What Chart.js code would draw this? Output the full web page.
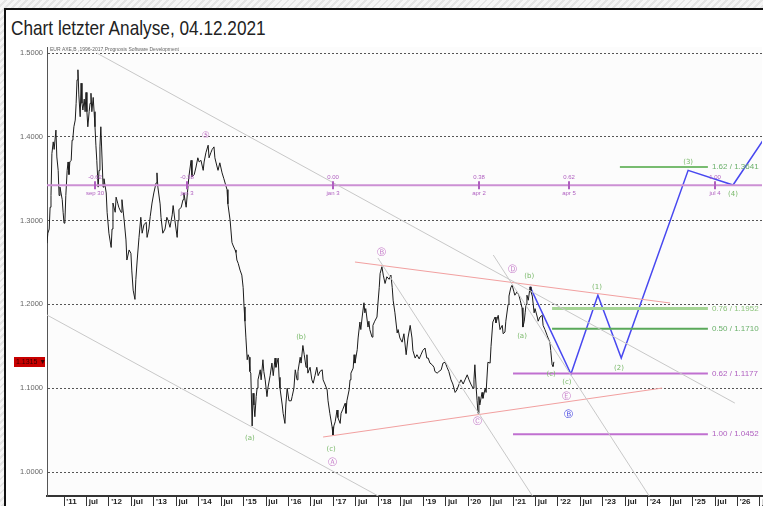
<!DOCTYPE html>
<html>
<head>
<meta charset="utf-8">
<script src="https://cdn.jsdelivr.net/npm/chart.js@4/dist/chart.umd.min.js"></script>
<style>
  html, body { margin: 0; padding: 0; width: 763px; height: 506px; overflow: hidden;
    background: repeating-linear-gradient(135deg, #f5f5f5 0 3px, #e4e4e4 3px 5px); }
  #frame { position: absolute; left: 4px; top: 8px; width: 800px; height: 520px; background: #fff;
    border-left: 2px solid #111; border-top: 2px solid #111; }
  #title { position: absolute; left: 11px; top: 16px; font: 21px "Liberation Sans", Arial, sans-serif;
    color: #222; white-space: nowrap; transform: scaleX(0.82); transform-origin: 0 0; }
  canvas { position: absolute; left: 0; top: 0; }
</style>
</head>
<body>
<div id="frame"></div>
<div id="title">Chart letzter Analyse, 04.12.2021</div>
<canvas id="chart" width="763" height="506"></canvas>
<script>
// ── data (years as decimals, prices in EUR/USD) ──────────────────────────────
const yearLabels = ["'11","'12","'13","'14","'15","'16","'17","'18","'19","'20","'21","'22","'23","'24","'25","'26"];
const priceTicks = [1.0, 1.1, 1.2, 1.3, 1.4, 1.5];

const priceSeries = [
  [2010.62,1.273],[2010.64,1.285],[2010.67,1.290],[2010.69,1.316],[2010.71,1.330],[2010.73,1.380],[2010.76,1.394],
  [2010.78,1.385],[2010.82,1.408],[2010.84,1.376],[2010.87,1.360],[2010.89,1.330],[2010.91,1.340],[2010.96,1.325],
  [2010.98,1.310],[2011.00,1.297],[2011.02,1.300],[2011.04,1.330],[2011.07,1.360],[2011.09,1.370],[2011.11,1.355],
  [2011.13,1.370],[2011.16,1.372],[2011.18,1.396],[2011.20,1.400],[2011.22,1.412],[2011.25,1.420],[2011.27,1.440],
  [2011.29,1.468],[2011.31,1.480],[2011.33,1.450],[2011.36,1.424],[2011.38,1.464],[2011.40,1.440],[2011.42,1.432],
  [2011.45,1.445],[2011.47,1.430],[2011.49,1.453],[2011.51,1.430],[2011.53,1.412],[2011.56,1.430],[2011.58,1.440],
  [2011.60,1.452],[2011.62,1.430],[2011.65,1.447],[2011.67,1.430],[2011.69,1.412],[2011.71,1.390],[2011.73,1.372],
  [2011.76,1.340],[2011.78,1.360],[2011.80,1.388],[2011.82,1.412],[2011.85,1.370],[2011.87,1.340],[2011.89,1.350],
  [2011.94,1.333],[2011.96,1.310],[2012.00,1.285],[2012.05,1.268],[2012.07,1.290],[2012.09,1.321],[2012.14,1.310],
  [2012.16,1.328],[2012.20,1.320],[2012.22,1.316],[2012.27,1.310],[2012.29,1.325],[2012.34,1.300],[2012.38,1.277],
  [2012.40,1.253],[2012.45,1.265],[2012.49,1.261],[2012.51,1.240],[2012.54,1.217],[2012.58,1.206],[2012.60,1.230],
  [2012.63,1.253],[2012.67,1.280],[2012.71,1.304],[2012.74,1.285],[2012.78,1.295],[2012.83,1.298],[2012.85,1.280],
  [2012.89,1.290],[2012.92,1.305],[2012.96,1.321],[2013.00,1.333],[2013.05,1.345],[2013.07,1.357],[2013.09,1.340],
  [2013.14,1.320],[2013.16,1.304],[2013.20,1.285],[2013.25,1.290],[2013.29,1.304],[2013.32,1.300],[2013.36,1.292],
  [2013.41,1.307],[2013.43,1.318],[2013.47,1.300],[2013.52,1.280],[2013.54,1.300],[2013.56,1.313],[2013.61,1.316],
  [2013.65,1.325],[2013.67,1.333],[2013.72,1.316],[2013.76,1.340],[2013.78,1.352],[2013.83,1.372],[2013.85,1.352],
  [2013.90,1.355],[2013.94,1.364],[2013.98,1.375],[2014.01,1.370],[2014.05,1.372],[2014.10,1.360],[2014.12,1.370],
  [2014.16,1.381],[2014.21,1.390],[2014.23,1.375],[2014.27,1.381],[2014.30,1.385],[2014.34,1.388],[2014.36,1.375],
  [2014.41,1.364],[2014.43,1.360],[2014.47,1.369],[2014.52,1.357],[2014.56,1.350],[2014.63,1.337],[2014.65,1.320],
  [2014.70,1.300],[2014.74,1.274],[2014.76,1.271],[2014.81,1.265],[2014.83,1.262],[2014.85,1.253],[2014.88,1.249],
  [2014.92,1.241],[2014.96,1.235],[2014.99,1.220],[2015.01,1.197],[2015.03,1.180],[2015.05,1.161],[2015.08,1.134],
  [2015.10,1.140],[2015.12,1.137],[2015.14,1.120],[2015.16,1.118],[2015.19,1.055],[2015.21,1.094],[2015.23,1.080],
  [2015.25,1.066],[2015.28,1.090],[2015.30,1.100],[2015.32,1.110],[2015.37,1.122],[2015.39,1.110],[2015.43,1.134],
  [2015.45,1.120],[2015.48,1.110],[2015.52,1.090],[2015.54,1.100],[2015.59,1.115],[2015.63,1.130],[2015.66,1.115],
  [2015.70,1.136],[2015.72,1.125],[2015.77,1.136],[2015.79,1.113],[2015.81,1.100],[2015.86,1.080],[2015.88,1.070],
  [2015.92,1.058],[2015.94,1.080],[2015.97,1.100],[2016.01,1.085],[2016.06,1.085],[2016.08,1.090],[2016.12,1.100],
  [2016.15,1.122],[2016.19,1.110],[2016.21,1.120],[2016.26,1.137],[2016.28,1.130],[2016.32,1.151],[2016.35,1.140],
  [2016.39,1.125],[2016.41,1.140],[2016.43,1.118],[2016.48,1.125],[2016.52,1.110],[2016.55,1.106],[2016.59,1.115],
  [2016.63,1.125],[2016.66,1.115],[2016.70,1.120],[2016.75,1.122],[2016.77,1.110],[2016.81,1.105],[2016.86,1.098],
  [2016.88,1.085],[2016.92,1.070],[2016.97,1.054],[2016.99,1.044],[2017.01,1.055],[2017.04,1.060],[2017.08,1.074],
  [2017.10,1.065],[2017.15,1.058],[2017.17,1.070],[2017.21,1.075],[2017.26,1.082],[2017.28,1.070],[2017.30,1.085],
  [2017.35,1.098],[2017.37,1.110],[2017.39,1.118],[2017.44,1.124],[2017.46,1.140],[2017.48,1.130],[2017.53,1.146],
  [2017.55,1.160],[2017.59,1.179],[2017.61,1.170],[2017.64,1.185],[2017.68,1.202],[2017.70,1.190],[2017.72,1.195],
  [2017.77,1.173],[2017.79,1.180],[2017.81,1.170],[2017.86,1.161],[2017.88,1.175],[2017.92,1.180],[2017.97,1.185],
  [2017.99,1.200],[2018.02,1.220],[2018.04,1.237],[2018.08,1.245],[2018.11,1.235],[2018.15,1.225],[2018.19,1.233],
  [2018.24,1.230],[2018.28,1.235],[2018.31,1.220],[2018.33,1.205],[2018.37,1.190],[2018.42,1.166],[2018.44,1.170],
  [2018.48,1.160],[2018.53,1.155],[2018.57,1.165],[2018.62,1.140],[2018.66,1.160],[2018.71,1.175],[2018.75,1.160],
  [2018.77,1.145],[2018.82,1.136],[2018.86,1.140],[2018.91,1.135],[2018.95,1.140],[2018.99,1.145],[2019.04,1.148],
  [2019.08,1.136],[2019.11,1.136],[2019.15,1.130],[2019.20,1.128],[2019.24,1.125],[2019.26,1.120],[2019.31,1.118],
  [2019.35,1.120],[2019.40,1.122],[2019.44,1.130],[2019.49,1.131],[2019.53,1.125],[2019.57,1.120],[2019.62,1.110],
  [2019.66,1.105],[2019.71,1.095],[2019.75,1.098],[2019.80,1.105],[2019.84,1.110],[2019.89,1.105],[2019.93,1.110],
  [2019.98,1.116],[2020.02,1.110],[2020.06,1.105],[2020.11,1.100],[2020.13,1.110],[2020.15,1.128],[2020.18,1.100],
  [2020.20,1.085],[2020.22,1.070],[2020.24,1.090],[2020.26,1.080],[2020.31,1.095],[2020.33,1.088],[2020.38,1.100],
  [2020.40,1.095],[2020.44,1.131],[2020.49,1.130],[2020.51,1.150],[2020.55,1.179],[2020.60,1.185],[2020.62,1.178],
  [2020.67,1.187],[2020.71,1.170],[2020.76,1.175],[2020.78,1.165],[2020.82,1.167],[2020.84,1.180],[2020.89,1.200],
  [2020.91,1.210],[2020.95,1.220],[2020.98,1.223],[2021.02,1.215],[2021.04,1.211],[2021.09,1.215],[2021.13,1.211],
  [2021.16,1.205],[2021.20,1.196],[2021.22,1.173],[2021.25,1.180],[2021.27,1.190],[2021.29,1.200],[2021.31,1.211],
  [2021.34,1.205],[2021.38,1.221],[2021.40,1.215],[2021.43,1.210],[2021.45,1.200],[2021.47,1.190],[2021.49,1.195],
  [2021.54,1.185],[2021.56,1.180],[2021.60,1.185],[2021.65,1.187],[2021.67,1.175],[2021.71,1.170],[2021.76,1.163],
  [2021.78,1.160],[2021.82,1.155],[2021.84,1.145],[2021.87,1.128],[2021.89,1.126],[2021.91,1.1315]
];
const lastPrice = 1.1315;

// forecast path (blue)
const forecastYears  = [2021.38, 2022.29, 2022.89, 2023.41, 2024.90, 2025.90, 2026.57];
const forecastPrices = [1.221,   1.117,   1.211,   1.136,   1.360,   1.3425,  1.396];

// fibonacci price levels
const fibLabels = ["1.62 / 1.3641", "0.76 / 1.1952", "0.50 / 1.1710", "0.62 / 1.1177", "1.00 / 1.0452"];
const fibValues = [1.3641, 1.1952, 1.1710, 1.1177, 1.0452];
const fibFrom   = [2023.38, 2021.87, 2021.87, 2021.00, 2021.00];
const fibTo     = 2025.34;

// fibonacci time line
const timeLevel  = 1.3422;
const timeYears  = [2011.70, 2013.74, 2016.99, 2020.24, 2022.25, 2025.49];
const timeRatios = ["-0.62", "-0.38", "0.00", "0.38", "0.62", "1.00"];
const timeDates  = ["sep 30", "jan 3", "jan 3", "apr 2", "apr 5", "jul 4"];

// trend lines [x1, y1, x2, y2]
const grayLines = [
  [2011.73, 1.500, 2025.94, 1.0823],
  [2010.62, 1.1874, 2018.04, 0.9702],
  [2017.99, 1.2554, 2021.45, 0.9700],
  [2020.56, 1.2590, 2024.05, 0.9700]
];
const redLines = [
  [2017.48, 1.2506, 2024.50, 1.2017],
  [2016.77, 1.0418, 2024.32, 1.1002]
];

// wave labels
const waveText   = ["⑤", "(a)", "(b)", "(c)", "Ⓐ", "Ⓑ", "Ⓒ", "Ⓓ", "(a)", "(b)", "(c)", "(c)", "Ⓔ", "Ⓑ", "(1)", "(2)", "(3)", "(4)"];
const waveYears  = [2014.16, 2015.14, 2016.28, 2016.95, 2016.97, 2018.08, 2020.20, 2020.98, 2021.20, 2021.36, 2021.85, 2022.20, 2022.20, 2022.23, 2022.87, 2023.36, 2024.90, 2025.90];
const wavePrices = [1.402, 1.0406, 1.161, 1.0274, 1.0107, 1.2613, 1.0597, 1.241, 1.1623, 1.2339, 1.117, 1.1074, 1.0895, 1.068, 1.2208, 1.1241, 1.370, 1.3317];
const waveKind   = ["p", "g", "g", "g", "p", "p", "p", "p", "g", "g", "g", "g", "p", "b", "g", "g", "g", "g"];

const headerText = "EUR AXE,B ,1996-2017,Prognosis Software Development";

// ── styling ──────────────────────────────────────────────────────────────────
const X_MIN = 2010.621, X_MAX = 2026.545;
const Y_MIN = 0.9714,   Y_MAX = 1.5072;
const waveColor = { p: "#c478c8", g: "#78b868", b: "#3a3ae0" };
const fibColors = ["#78bc70", "#a4d494", "#5aa85a", "#c070d0", "#c070d0"];
const fibWidths = [2, 3, 2, 2, 2];
const fibText   = ["#6ab06a", "#8cc47c", "#6ab06a", "#b060c0", "#b060c0"];
const FONT = '"Liberation Sans", Arial, sans-serif';

const seg = (l) => [{ x: l[0], y: l[1] }, { x: l[2], y: l[3] }];
const lineDs = (data, color, width) => ({
  data, borderColor: color, borderWidth: width, pointRadius: 0, tension: 0, fill: false
});

const datasets = [
  ...grayLines.map((l) => lineDs(seg(l), "#c8c8c8", 1)),
  ...redLines.map((l) => lineDs(seg(l), "#f2a0a0", 1)),
  lineDs([{ x: X_MIN, y: timeLevel }, { x: X_MAX, y: timeLevel }], "#cc90d4", 2),
  ...fibValues.map((v, i) => lineDs([{ x: fibFrom[i], y: v }, { x: fibTo, y: v }], fibColors[i], fibWidths[i])),
  lineDs(priceSeries.map((p) => ({ x: p[0], y: p[1] })), "#1c1c1c", 1),
  lineDs(forecastYears.map((t, i) => ({ x: t, y: forecastPrices[i] })), "#4848f0", 1.5)
];

const xTickValues = [], xTickText = [];
yearLabels.forEach((lab, i) => {
  xTickValues.push(2011 + i, 2011.5 + i);
  xTickText.push(lab, "jul");
});

const backdrop = {
  id: "backdrop",
  beforeDraw(chart) {
    const { ctx, chartArea: a } = chart;
    ctx.save();
    ctx.fillStyle = "#fcfcfc";
    ctx.fillRect(a.left, a.top, a.right - a.left, a.bottom - a.top);
    ctx.restore();
  }
};

const overlay = {
  id: "overlay",
  afterDatasetsDraw(chart) {
    const { ctx, chartArea: a, scales: { x, y } } = chart;
    ctx.save();
    ctx.textBaseline = "middle";

    // header text
    ctx.font = "5px " + FONT;
    ctx.fillStyle = "#666";
    ctx.textAlign = "left";
    ctx.fillText(headerText, a.left + 3, a.top + 3);

    // time fib marks
    const ty = y.getPixelForValue(timeLevel);
    timeYears.forEach((t, i) => {
      const px = Math.round(x.getPixelForValue(t));
      ctx.strokeStyle = "#b060c0";
      ctx.lineWidth = 2;
      ctx.beginPath();
      ctx.moveTo(px, ty - 4);
      ctx.lineTo(px, ty + 4);
      ctx.stroke();
      ctx.font = "6px " + FONT;
      ctx.fillStyle = "#b060c0";
      ctx.textAlign = "center";
      ctx.fillText(timeRatios[i], px, ty - 8);
      ctx.fillText(timeDates[i], px, ty + 8);
    });

    // fib level labels
    ctx.font = "8px " + FONT;
    ctx.textAlign = "left";
    fibValues.forEach((v, i) => {
      ctx.fillStyle = fibText[i];
      ctx.fillText(fibLabels[i], x.getPixelForValue(fibTo) + 4, y.getPixelForValue(v));
    });

    // wave labels
    ctx.textAlign = "center";
    waveText.forEach((s, i) => {
      const k = waveKind[i];
      ctx.font = (k === "g" ? "7px " : "9px ") + '"DejaVu Sans", ' + FONT;
      ctx.fillStyle = waveColor[k];
      ctx.fillText(s, x.getPixelForValue(waveYears[i]), y.getPixelForValue(wavePrices[i]));
    });

    // last price marker
    const py = Math.round(y.getPixelForValue(lastPrice));
    ctx.fillStyle = "#c80000";
    ctx.fillRect(14, py - 5, 31, 10);
    ctx.font = "7px " + FONT;
    ctx.fillStyle = "#3a0000";
    ctx.textAlign = "left";
    ctx.fillText(lastPrice.toFixed(4) + " \u25BC", 16, py + 0.5);
    ctx.restore();
  }
};

new Chart(document.getElementById("chart"), {
  type: "line",
  data: { datasets },
  plugins: [backdrop, overlay],
  options: {
    responsive: false,
    animation: false,
    events: [],
    parsing: true,
    layout: { padding: { left: 0, top: 47, right: 1, bottom: 0 } },
    plugins: { legend: { display: false }, tooltip: { enabled: false } },
    scales: {
      x: {
        type: "linear",
        min: X_MIN,
        max: X_MAX,
        afterBuildTicks: (s) => { s.ticks = xTickValues.map((v) => ({ value: v })); },
        afterFit: (s) => { s.height = 10; },
        grid: { drawOnChartArea: false, drawTicks: true, tickLength: 10, color: "#333", lineWidth: 1 },
        border: { display: true, color: "#333", width: 2 },
        ticks: {
          autoSkip: false, maxRotation: 0, minRotation: 0, align: "start", padding: -9,
          font: { size: 8, weight: "bold", family: FONT }, color: "#222",
          callback: (v, i) => " " + xTickText[i]
        }
      },
      y: {
        type: "linear",
        min: Y_MIN,
        max: Y_MAX,
        afterBuildTicks: (s) => { s.ticks = priceTicks.map((v) => ({ value: v })); },
        afterFit: (s) => { s.width = 47; },
        grid: { color: "#555", lineWidth: 1, drawTicks: false },
        border: { display: true, color: "#555", width: 1, dash: [2, 2] },
        ticks: {
          padding: 4, font: { size: 7.5, family: FONT }, color: "#666",
          callback: (v) => Number(v).toFixed(4)
        }
      }
    }
  }
});
</script>
</body>
</html>
